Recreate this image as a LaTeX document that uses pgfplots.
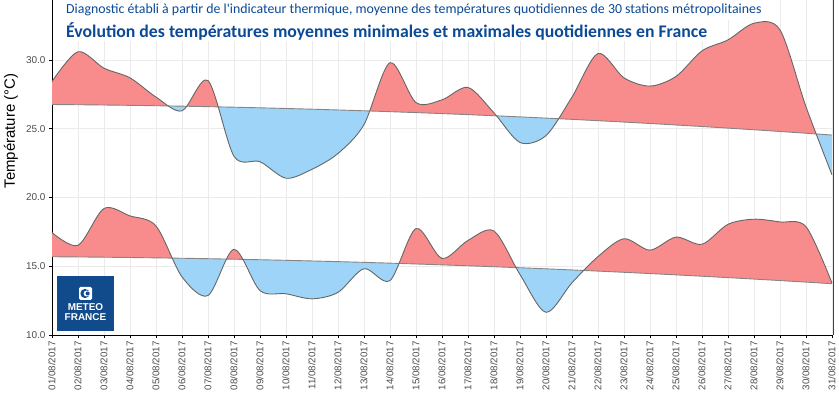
\documentclass[border=0pt]{standalone}
\usepackage{fontspec}
\setmainfont{Liberation Sans}
\newfontfamily\titlefont{Carlito}
\usepackage{pgfplots}
\usepackage{pgfplotstable}
\pgfplotsset{compat=1.18}
\usepgfplotslibrary{fillbetween}
\definecolor{redfill}{HTML}{F88C8C}
\definecolor{bluefill}{HTML}{9DD4F7}
\definecolor{curvec}{HTML}{666666}
\definecolor{trendc}{HTML}{858585}
\definecolor{titleblue}{HTML}{0B4A96}
\definecolor{logoblue}{HTML}{124B8B}
\definecolor{gridc}{HTML}{EBEBEB}
\definecolor{ticktext}{HTML}{4D4D4D}

\pgfplotstableread{
d t
1 28.43
2 30.6
3 29.4
4 28.7
5 27.3
6 26.3
7 28.5
8 23.0
9 22.6
10 21.4
11 22.05
12 23.2
13 25.3
14 29.8
15 26.9
16 27.1
17 28.0
18 26.15
19 24.0
20 24.5
21 27.3
22 30.47
23 28.7
24 28.1
25 28.8
26 30.66
27 31.46
28 32.67
29 32.19
30 26.6
31 21.65
}\tmax

\pgfplotstableread{
d t
1 26.76
2 26.744
3 26.724
4 26.70
5 26.672
6 26.64
7 26.604
8 26.564
9 26.52
10 26.472
11 26.42
12 26.364
13 26.304
14 26.24
15 26.172
16 26.10
17 26.024
18 25.944
19 25.86
20 25.772
21 25.68
22 25.584
23 25.484
24 25.38
25 25.272
26 25.16
27 25.044
28 24.924
29 24.80
30 24.672
31 24.54
}\nmax

\pgfplotstableread{
d t
1 17.45
2 16.52
3 19.2
4 18.66
5 17.93
6 14.23
7 12.87
8 16.23
9 13.23
10 13.0
11 12.63
12 13.1
13 14.82
14 13.96
15 17.74
16 15.57
17 16.88
18 17.56
19 14.4
20 11.65
21 13.8
22 15.7
23 17.0
24 16.17
25 17.12
26 16.6
27 18.05
28 18.42
29 18.22
30 17.88
31 13.78
}\tmin

\pgfplotstableread{
d t
1 15.69
2 15.675
3 15.657
4 15.635
5 15.609
6 15.581
7 15.548
8 15.512
9 15.473
10 15.431
11 15.384
12 15.335
13 15.282
14 15.225
15 15.165
16 15.101
17 15.034
18 14.964
19 14.890
20 14.812
21 14.731
22 14.647
23 14.559
24 14.468
25 14.373
26 14.274
27 14.173
28 14.067
29 13.959
30 13.846
31 13.731
}\nmin

\begin{document}
\begin{tikzpicture}
\begin{axis}[
  name=ax, at={(0,0)}, anchor=south west,
  scale only axis, width=781bp, height=335bp,
  xmin=1, xmax=31.04, ymin=10, ymax=34.36,
  axis x line*=bottom, axis y line*=left,
  axis line style={black, line width=0.6bp},
  grid=major, major grid style={gridc, line width=0.8bp},
  xtick={1,...,31},
  xticklabels={01/08/2017,02/08/2017,03/08/2017,04/08/2017,05/08/2017,06/08/2017,07/08/2017,08/08/2017,09/08/2017,10/08/2017,11/08/2017,12/08/2017,13/08/2017,14/08/2017,15/08/2017,16/08/2017,17/08/2017,18/08/2017,19/08/2017,20/08/2017,21/08/2017,22/08/2017,23/08/2017,24/08/2017,25/08/2017,26/08/2017,27/08/2017,28/08/2017,29/08/2017,30/08/2017,31/08/2017},
  ytick={10,15,20,25,30},
  tick align=outside, major tick length=3bp,
  tick style={black, line width=0.6bp},
  /pgf/number format/assume math mode=true,
  yticklabel style={/pgf/number format/fixed, /pgf/number format/fixed zerofill, /pgf/number format/precision=1, font=\fontsize{10}{11}\selectfont, text=ticktext},
  xticklabel style={rotate=90, anchor=east, font=\fontsize{9.8}{10}\selectfont, text=ticktext},
  clip=false,
]
\addplot[name path=tmax, draw=none, smooth] table[x=d,y=t]{\tmax};
\addplot[name path=nmax, draw=none] table[x=d,y=t]{\nmax};
\addplot fill between[of=tmax and nmax, split,
  every even segment/.style={fill=redfill},
  every odd segment/.style={fill=bluefill}];
\addplot[name path=tmin, draw=none, smooth] table[x=d,y=t]{\tmin};
\addplot[name path=nmin, draw=none] table[x=d,y=t]{\nmin};
\addplot fill between[of=tmin and nmin, split,
  every even segment/.style={fill=redfill},
  every odd segment/.style={fill=bluefill}];
\addplot[trendc, line width=0.9bp] table[x=d,y=t]{\nmax};
\addplot[trendc, line width=0.9bp] table[x=d,y=t]{\nmin};
\addplot[curvec, line width=0.9bp, smooth] table[x=d,y=t]{\tmax};
\addplot[curvec, line width=0.9bp, smooth] table[x=d,y=t]{\tmin};
\draw[black!75, line width=0.6bp] (rel axis cs:1,0) -- (rel axis cs:1,1);
\end{axis}
% title boxes
\fill[white] (10bp,315bp) rectangle (714bp,334.5bp);
\fill[white] (10bp,294bp) rectangle (660bp,315bp);
\node[anchor=base west, inner sep=0, text=titleblue, font=\titlefont\fontsize{13.9}{14}\selectfont] at (14bp,321.5bp) {Diagnostic établi à partir de l'indicateur thermique, moyenne des températures quotidiennes de 30 stations métropolitaines};
\node[anchor=base west, inner sep=0, text=titleblue, font=\titlefont\bfseries\fontsize{17.8}{18}\selectfont] at (14bp,297.7bp) {Évolution des températures moyennes minimales et maximales quotidiennes en France};
% y label
\node[rotate=90, font=\fontsize{15}{16}\selectfont, text=black] at (-41bp,204bp) {Température (°C)};
% logo
\fill[logoblue] (5bp,4bp) rectangle (62bp,59bp);
\fill[white, rounded corners=1.5bp] (27bp,35bp) rectangle (40bp,48bp);
\fill[logoblue] (33bp,41.5bp) circle (4.6bp);
\fill[white] (34.6bp,41.5bp) circle (3bp);
\fill[logoblue] (35.6bp,41.5bp) circle (2bp);
\node[anchor=base, inner sep=0, text=white, font=\bfseries\fontsize{10}{10}\selectfont] at (33.5bp,24.5bp) {METEO};
\node[anchor=base, inner sep=0, text=white, font=\bfseries\fontsize{10}{10}\selectfont] at (33.5bp,14.5bp) {FRANCE};
\pgfresetboundingbox
\path[use as bounding box] (-52bp,-63bp) rectangle (787bp,335bp);
\end{tikzpicture}
\end{document}
